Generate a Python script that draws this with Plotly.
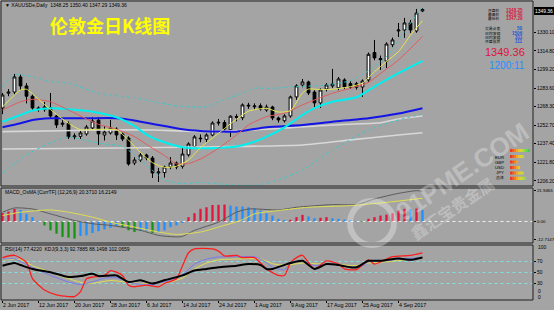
import plotly.graph_objects as go

W, H = 554, 310
def px(x): return x / W
def py(y): return 1 - y / H

# ---------------- data ----------------
bars = list(range(71))
opens = [1267.2,1279.5,1280.5,1293.1,1285.6,1277.0,1267.2,1265.8,1267.5,1260.5,
         1253.5,1254.2,1243.0,1243.5,1245.5,1250.5,1257.0,1244.6,1246.3,1249.6,
         1245.5,1242.1,1221.2,1223.7,1227.9,1225.4,1212.9,1213.2,1217.9,1221.2,
         1218.5,1228.0,1235.0,1242.0,1241.0,1244.6,1254.6,1255.0,1249.0,1260.0,
         1259.0,1269.5,1268.2,1269.0,1265.5,1268.0,1258.8,1256.5,1260.5,1276.4,
         1286.4,1288.9,1280.5,1271.4,1283.0,1285.6,1284.0,1290.6,1287.5,1287.5,
         1284.7,1290.6,1313.5,1308.5,1306.4,1320.0,1331.5,1332.3,1338.2,1331.5,
         1348.25]
highs = [1279.7,1283.0,1295.6,1295.0,1288.0,1278.5,1268.5,1272.2,1279.7,1261.5,
         1257.0,1256.0,1246.0,1248.8,1253.0,1259.7,1259.5,1252.0,1257.2,1251.0,
         1246.5,1243.5,1226.0,1229.5,1229.0,1227.0,1217.0,1219.0,1226.2,1222.5,
         1233.8,1238.5,1244.5,1245.0,1246.0,1256.0,1258.0,1257.0,1261.0,1262.0,
         1271.0,1271.5,1271.0,1271.0,1270.0,1269.0,1260.0,1262.0,1277.5,1287.0,
         1291.4,1290.0,1282.0,1283.5,1288.0,1299.8,1293.0,1292.0,1289.5,1289.0,
         1291.0,1313.5,1324.0,1311.0,1322.0,1326.0,1338.2,1342.4,1340.7,1349.9,
         1350.40]
lows = [1262.0,1277.0,1278.5,1282.2,1271.0,1265.5,1264.0,1264.0,1259.0,1250.5,
        1251.5,1241.3,1241.0,1241.3,1244.0,1249.0,1236.3,1240.0,1245.0,1240.5,
        1239.5,1219.0,1219.5,1222.0,1223.5,1208.7,1205.4,1209.0,1216.0,1216.0,
        1216.5,1226.5,1233.0,1238.5,1238.5,1243.5,1252.5,1247.5,1243.0,1256.0,
        1257.0,1266.5,1266.0,1265.0,1264.0,1257.0,1255.0,1255.0,1259.0,1274.0,
        1284.5,1278.0,1268.0,1267.2,1281.0,1284.0,1282.0,1283.0,1283.0,1282.5,
        1276.4,1289.0,1307.0,1299.0,1300.6,1318.0,1326.5,1325.7,1329.8,1330.0,
        1347.29]
closes = [1278.0,1280.5,1293.1,1285.6,1277.0,1267.2,1266.3,1268.0,1260.5,1253.0,
          1254.5,1243.0,1243.8,1246.3,1251.3,1256.3,1245.5,1247.1,1250.5,1244.6,
          1241.3,1220.4,1223.7,1227.9,1225.4,1212.9,1213.7,1217.9,1221.2,1217.9,
          1228.7,1237.1,1243.0,1241.5,1244.6,1254.6,1255.2,1249.6,1260.3,1259.5,
          1269.7,1268.9,1268.8,1266.3,1268.0,1258.8,1257.2,1260.5,1276.4,1285.6,
          1288.9,1279.7,1271.4,1282.2,1286.4,1287.2,1291.4,1284.7,1284.5,1284.5,
          1289.7,1312.0,1309.0,1307.5,1320.6,1324.0,1332.3,1338.2,1332.3,1346.5,
          1349.36]

ma_fast_idx = [0,3,4,6,8,11,13,16,19,21,23,25,27,29,31,33,36,39,41,44,46,48,50,51,53,55,58,60,62,64,66,68,70]
ma_fast_val = [1268.0,1282.2,1282.8,1274.5,1265.8,1254.4,1249.0,1249.4,1248.8,1240.4,1230.0,1221.5,1217.6,1218.5,
               1223.7,1234.0,1246.0,1257.8,1264.5,1266.9,1263.8,1265.0,1279.8,1283.0,1282.5,1282.8,1285.0,1288.0,
               1297.5,1306.0,1314.2,1328.0,1340.0]
ma_mid_idx = [0,3,5,8,11,14,16,19,22,25,27,29,31,33,36,39,41,44,47,50,52,55,58,61,63,66,70]
ma_mid_val = [1265.5,1272.4,1274.4,1272.4,1265.5,1258.0,1253.5,1249.4,1243.2,1233.5,1227.5,1220.5,1220.8,1224.5,
              1233.5,1244.6,1253.0,1259.9,1262.8,1269.7,1273.9,1279.5,1283.6,1288.5,1296.0,1307.3,1327.0]
ma20_idx = [0,3,5,8,11,15,19,22,24,27,30,33,36,39,42,44,47,50,52,55,59,62,66,70]
ma20_val = [1255.7,1261.3,1265.0,1266.9,1266.1,1264.1,1259.4,1252.0,1245.0,1238.5,1234.4,1233.5,1233.8,1235.0,
            1239.0,1243.2,1251.0,1261.3,1267.0,1272.4,1276.1,1285.0,1296.2,1306.5]
ma_long_idx = [0,3,5,8,14,19,22,24,27,30,33,36,39,44,50,55,61,66,70]
ma_long_val = [1251.1,1254.4,1257.2,1258.6,1258.6,1258.6,1256.8,1254.8,1252.1,1249.4,1248.0,1247.5,1247.4,
               1251.1,1253.0,1255.7,1258.6,1262.5,1267.0]
ma_s1_idx = [0,10,17,25,33,44,55,63,66,70]
ma_s1_val = [1247.4,1248.2,1248.8,1248.8,1247.6,1249.4,1253.0,1254.8,1258.0,1260.5]
ma_s2_idx = [0,20,33,50,58,66,70]
ma_s2_val = [1232.9,1233.8,1234.6,1236.3,1240.5,1244.6,1246.5]
bb_up_idx = [0,2,5,8,11,16,22,26,30,34,36,40,42,45,48,54,58,61,64,66,70]
bb_up_val = [1285.0,1294.8,1293.3,1289.2,1287.8,1279.5,1275.6,1271.6,1268.3,1268.3,1272.4,1279.5,1283.6,
             1283.6,1284.7,1286.4,1290.0,1298.3,1310.0,1324.0,1352.0]
bb_lo_idx = [0,4,8,11,14,17,20,22,25,27,30,33,38,42,46,50,55,61,66,70]
bb_lo_val = [1213.0,1228.0,1238.0,1243.0,1240.0,1237.0,1235.0,1228.0,1215.0,1207.0,1204.0,1205.0,1203.0,
             1202.5,1207.0,1215.4,1232.0,1248.8,1257.2,1262.0]

osma = [5.9,7.0,8.9,8.2,5.4,3.1,0.3,-2.8,-6.3,-8.7,-11.0,-11.5,-12.2,-10.3,-9.9,-8.2,-7.0,-5.6,-4.5,-3.3,
        -4.0,-6.3,-7.5,-6.8,-6.5,-8.2,-7.5,-6.3,-4.0,-2.8,-0.9,3.1,5.9,9.0,10.1,11.7,11.8,12.0,11.3,10.6,
        10.6,10.1,9.6,7.8,5.9,4.2,1.9,0.7,1.2,3.1,4.7,3.6,2.3,2.6,3.1,2.3,1.9,1.4,0.7,0.3,
        -0.3,1.9,3.1,4.2,4.9,5.9,7.8,9.0,8.7,9.2,8.2]
macd_idx = [0,2,5,8,12,15,18,23,26,29,30,32,36,39,41,46,49,55,59,62,66,69,70]
macd_val = [6.6,9.6,8.9,5.4,0.7,-1.6,-2.8,-6.3,-9.9,-11.0,-10.6,-6.3,-0.5,6.6,8.9,8.2,10.1,12.0,12.0,16.0,20.0,21.9,21.5]
sig_idx = [0,3,8,11,15,18,22,26,29,33,36,40,42,46,51,58,64,70]
sig_val = [4.2,6.6,8.2,6.6,3.1,-0.5,-4.0,-7.5,-9.2,-7.5,-4.0,1.2,5.4,7.8,10.1,11.3,13.6,16.5]

rsi_idx = [0,2,3,5,8,11,13,15,16,19,21,23,25,27,30,32,34,36,39,41,43,44,45,48,50,52,54,56,58,59,61,63,66,68,70]
rsi_val = [62.4,67.2,63.6,56.5,50.6,41.7,43.5,47.7,43.5,44.7,32.8,35.8,30.0,35.8,44.7,53.5,56.5,59.4,62.4,65.4,
           63.6,56.5,56.5,67.2,71.2,56.5,65.4,63.6,59.4,59.4,71.2,71.2,75.3,73.0,77.4]
kdj_j_idx = [0,2,4,5,7,9,11,12,13,14,15,17,18,19,20,21,22,24,26,27,29,30,31,32,35,36,37,39,40,42,44,46,47,48,
             49,50,51,52,54,56,57,59,61,62,64,65,68,70]
kdj_j_val = [77.1,81.3,68.2,38.8,18.1,9.3,6.3,6.3,15.2,38.8,41.7,44.7,53.5,50.6,44.7,27.0,24.0,27.0,24.0,30.0,
             38.8,62.4,85.9,93.0,93.0,88.9,80.1,81.0,77.1,77.1,56.5,44.7,45.0,68.0,77.1,81.3,68.2,56.5,71.2,65.4,
             56.5,55.3,73.0,65.4,74.2,78.9,81.3,85.9]
kdj_k_idx = [0,2,5,8,11,13,15,17,19,21,22,25,27,30,32,34,36,39,42,44,45,47,48,50,52,54,56,58,60,61,63,66,70]
kdj_k_val = [74.2,74.6,59.4,44.7,32.8,28.2,32.8,39.9,40.5,32.8,30.0,28.2,32.8,45.9,65.4,74.2,78.3,78.6,78.6,
             68.2,59.4,55.0,67.2,71.2,62.4,66.0,64.0,59.4,62.0,69.5,70.5,74.2,77.1]
kdj_d_idx = [0,3,5,8,11,14,16,18,21,23,27,30,32,34,36,39,43,45,47,50,53,56,59,61,64,68,70]
kdj_d_val = [73.0,73.0,62.4,50.6,38.8,30.0,32.0,35.5,32.0,30.0,30.8,39.9,56.5,67.2,73.0,74.5,74.5,66.0,63.0,
             67.0,65.5,64.5,62.4,67.2,69.5,74.2,75.5]

price_ticks = [1330.10, 1314.80, 1299.20, 1283.60, 1268.30, 1252.70, 1237.40, 1221.80, 1206.20]
macd_ticks = [21.9465, 0.0, -12.7147]
macd_tick_text = ["21.9465", "0.00", "-12.7147"]
rsi_ticks = [70, 50, 30]
date_idx = [0, 6, 12, 18, 24, 30, 36, 42, 48, 54, 60, 66]
date_text = ["2 Jun 2017", "12 Jun 2017", "20 Jun 2017", "28 Jun 2017", "6 Jul 2017", "14 Jul 2017",
             "24 Jul 2017", "1 Aug 2017", "9 Aug 2017", "17 Aug 2017", "25 Aug 2017", "4 Sep 2017"]

info_labels = ["开盘价", "最高价", "最低价", "交易点差", "日均波幅", "日内波幅", "开盘涨跌"]
info_values = ["1348.25", "1350.40", "1347.29", "50", "1506", "311", "111"]
ccy_labels = ["EUR", "GBP", "USD", "JPY", "总体"]
ccy_strength = [10, 7, 4, 5, 7, 8]   # number of coloured cells per row

# ---------------- figure ----------------
fig = go.Figure()
BG = "#a4a4a4"

fig.add_trace(go.Candlestick(
    x=bars, open=opens, high=highs, low=lows, close=closes,
    increasing=dict(line=dict(color="black", width=1), fillcolor="white"),
    decreasing=dict(line=dict(color="black", width=1), fillcolor="black"),
    whiskerwidth=0, xaxis="x", yaxis="y", showlegend=False, hoverinfo="skip"))

def line(xs, ys, color, width, dash="solid", xa="x", ya="y"):
    fig.add_trace(go.Scatter(x=xs, y=ys, mode="lines",
                             line=dict(color=color, width=width, dash=dash, shape="spline", smoothing=0.6),
                             xaxis=xa, yaxis=ya, showlegend=False, hoverinfo="skip"))

line(ma_s2_idx, ma_s2_val, "#d8d8d8", 1.6)
line(ma_s1_idx, ma_s1_val, "#d8d8d8", 1.6)
line(ma_long_idx, ma_long_val, "#1414e6", 2)
line(bb_up_idx, bb_up_val, "#3fc7c7", 1, "dot")
line(bb_lo_idx, bb_lo_val, "#3fc7c7", 1, "dot")
line(ma20_idx, ma20_val, "#00f0f0", 2)
line(ma_mid_idx, ma_mid_val, "#e65a5a", 1)
line(ma_fast_idx, ma_fast_val, "#e6e650", 1)

# MACD panel
colors = []
prev = 0.0
for v in osma:
    if v >= 0 and v > prev:
        colors.append("#e0143c")
    elif v < 0 and v < prev:
        colors.append("#129612")
    else:
        colors.append("#1e90ff")
    prev = v
fig.add_trace(go.Bar(x=bars, y=osma, marker=dict(color=colors, line=dict(width=0)), width=0.38,
                     xaxis="x2", yaxis="y2", showlegend=False, hoverinfo="skip"))
fig.add_trace(go.Scatter(x=[-1, 89], y=[0, 0], mode="lines", line=dict(color="#f0f0f0", width=1, dash="dot"),
                         xaxis="x2", yaxis="y2", showlegend=False, hoverinfo="skip"))
line(macd_idx, macd_val, "#5a5a5a", 1, xa="x2", ya="y2")
line(sig_idx, sig_val, "#e0e050", 1, xa="x2", ya="y2")

# RSI / KDJ panel
for lv in [70, 50, 30]:
    fig.add_trace(go.Scatter(x=[-1, 89], y=[lv, lv], mode="lines", line=dict(color="#7fe0e0", width=1, dash="dot"),
                             xaxis="x3", yaxis="y3", showlegend=False, hoverinfo="skip"))
line(kdj_d_idx, kdj_d_val, "#e0e050", 1, xa="x3", ya="y3")
line(kdj_k_idx, kdj_k_val, "#7878f0", 1, xa="x3", ya="y3")
line(kdj_j_idx, kdj_j_val, "#ff1e1e", 1.3, xa="x3", ya="y3")
line(rsi_idx, rsi_val, "#000000", 2, xa="x3", ya="y3")

XR = [-0.25, 88.42]
XD = [px(1), px(533)]
common_x = dict(range=XR, domain=XD, showgrid=False, zeroline=False, showticklabels=False, ticks="",
                fixedrange=True, automargin=False)
tickfont = dict(family="Liberation Sans", size=4.9, color="black")
ycommon = dict(side="right", ticks="outside", ticklen=2, tickcolor="black",
               showgrid=False, zeroline=False, automargin=False, fixedrange=True)
fig.update_layout(
    width=W, height=H, margin=dict(l=0, r=0, t=0, b=0, autoexpand=False),
    paper_bgcolor=BG, plot_bgcolor=BG, boxgap=0.35,
    xaxis=dict(**common_x, anchor="y", rangeslider=dict(visible=False)),
    xaxis2=dict(**common_x, anchor="y2"),
    xaxis3=dict(range=XR, domain=XD, showgrid=False, zeroline=False, anchor="y3", automargin=False,
                tickvals=date_idx, ticktext=date_text, ticks="outside", ticklen=2, tickcolor="black",
                tickangle=0, ticklabelposition="outside right",
                tickfont=dict(family="Liberation Sans", size=5.3, color="black"), fixedrange=True),
    yaxis=dict(**ycommon, tickfont=tickfont, domain=[py(186), py(2)], range=[1202.0, 1355.7], anchor="x",
               tickvals=price_ticks, ticktext=[f"{v:.2f}" for v in price_ticks]),
    yaxis2=dict(**ycommon, tickfont=dict(family="Liberation Sans", size=4.4, color="black"),
                domain=[py(243), py(188)], range=[-15.3, 23.8], anchor="x2",
                tickvals=macd_ticks, ticktext=macd_tick_text),
    yaxis3=dict(**ycommon, tickfont=tickfont, domain=[py(300), py(245)], range=[0, 100], anchor="x3",
                tickvals=rsi_ticks, ticktext=[str(v) for v in rsi_ticks]),
    showlegend=False,
)

shapes = []
for (y0, y1) in [(1, 186), (188, 243), (245, 300)]:
    shapes.append(dict(type="rect", xref="paper", yref="paper", x0=px(1), x1=px(533), y0=py(y1), y1=py(y0),
                       line=dict(color="#202020", width=1)))
# current price box
shapes.append(dict(type="rect", xref="paper", yref="paper", x0=px(534), x1=px(554), y0=py(15), y1=py(7),
                   fillcolor="black", line=dict(width=0)))
# currency strength cells
cell_cols = ["#e83a2a", "#ee5a28", "#f27d26", "#f3a22a", "#eec22e", "#dcd236", "#b8d83c", "#8ed844", "#66d24c", "#4cc854"]
rows_cy = [150.5, 156.5, 162.0, 167.5, 173.0, 178.3]
for cy, n in zip(rows_cy, ccy_strength):
    for k in range(n):
        shapes.append(dict(type="rect", xref="paper", yref="paper", x0=px(510 + 2 * k), x1=px(512 + 2 * k),
                           y0=py(cy + 1.6), y1=py(cy - 1.6), fillcolor=cell_cols[k], line=dict(width=0)))
# watermark ring
shapes.append(dict(type="circle", xref="paper", yref="paper", x0=px(350), x1=px(394), y0=py(245), y1=py(201),
                   line=dict(color="rgba(255,255,255,0.32)", width=6)))
fig.update_layout(shapes=shapes)

ann = []
def text(x, y, s, size=5.5, color="black", anchor="left", family="Liberation Sans", yanchor="middle", angle=0):
    ann.append(dict(x=px(x), y=py(y), xref="paper", yref="paper", text=s, showarrow=False, textangle=angle,
                    xanchor=anchor, yanchor=yanchor, font=dict(size=size, color=color, family=family)))

text(3, 4.5, "▼ XAUUSDe,Daily  1348.25 1350.40 1347.29 1349.36", 5)
text(110, 25, "<b>伦敦金日K线图</b>", 18, "#ffff00", "center", "Noto Sans CJK SC")
text(3, 192, "MACD_OsMA [CurrTF] (12,26,9) 20.3710 16.2149", 5)
text(3, 248.5, "RSI(14) 77.4220  KDJ(9,3,3) 92.7885 88.1498 102.0659", 5)
text(544, 11, "1349.36", 4.9, "white", "center")
# RSI panel edge labels (placed as drawn in the reference)
text(536, 247, "100", 4.9)
text(536, 291.5, "0", 4.9)
text(536, 297.5, "0", 4.9)

rows_y = [10.5, 14.5, 18.5, 28, 33, 37.3, 41.5]
for lab, val, yy, k in zip(info_labels, info_values, rows_y, range(7)):
    text(502, yy, lab, 3.8, "black", "right", "Noto Sans CJK SC")
    text(525, yy, "<b>" + val + "</b>", 4.6, "#dc143c" if k < 3 else "#1a5ad0", "right")
text(527, 52, "1349.36", 11, "#dc143c", "right")
text(527, 65.5, "1200:11", 10, "#1e90ff", "right")

for k, lab in enumerate(ccy_labels):
    text(506, 157.3 + 5.1 * k, lab, 4.3, "black", "right", "Liberation Sans")

# watermark
text(462, 172, "<b>91PME.COM</b>", 26, "rgba(255,255,255,0.28)", "center", "Liberation Sans", angle=-34)
text(452, 208, "<b>鑫汇宝贵金属</b>", 16, "rgba(255,255,255,0.28)", "center", "Noto Sans CJK SC", angle=-34)
fig.update_layout(annotations=ann)

fig.write_html("out.html")
